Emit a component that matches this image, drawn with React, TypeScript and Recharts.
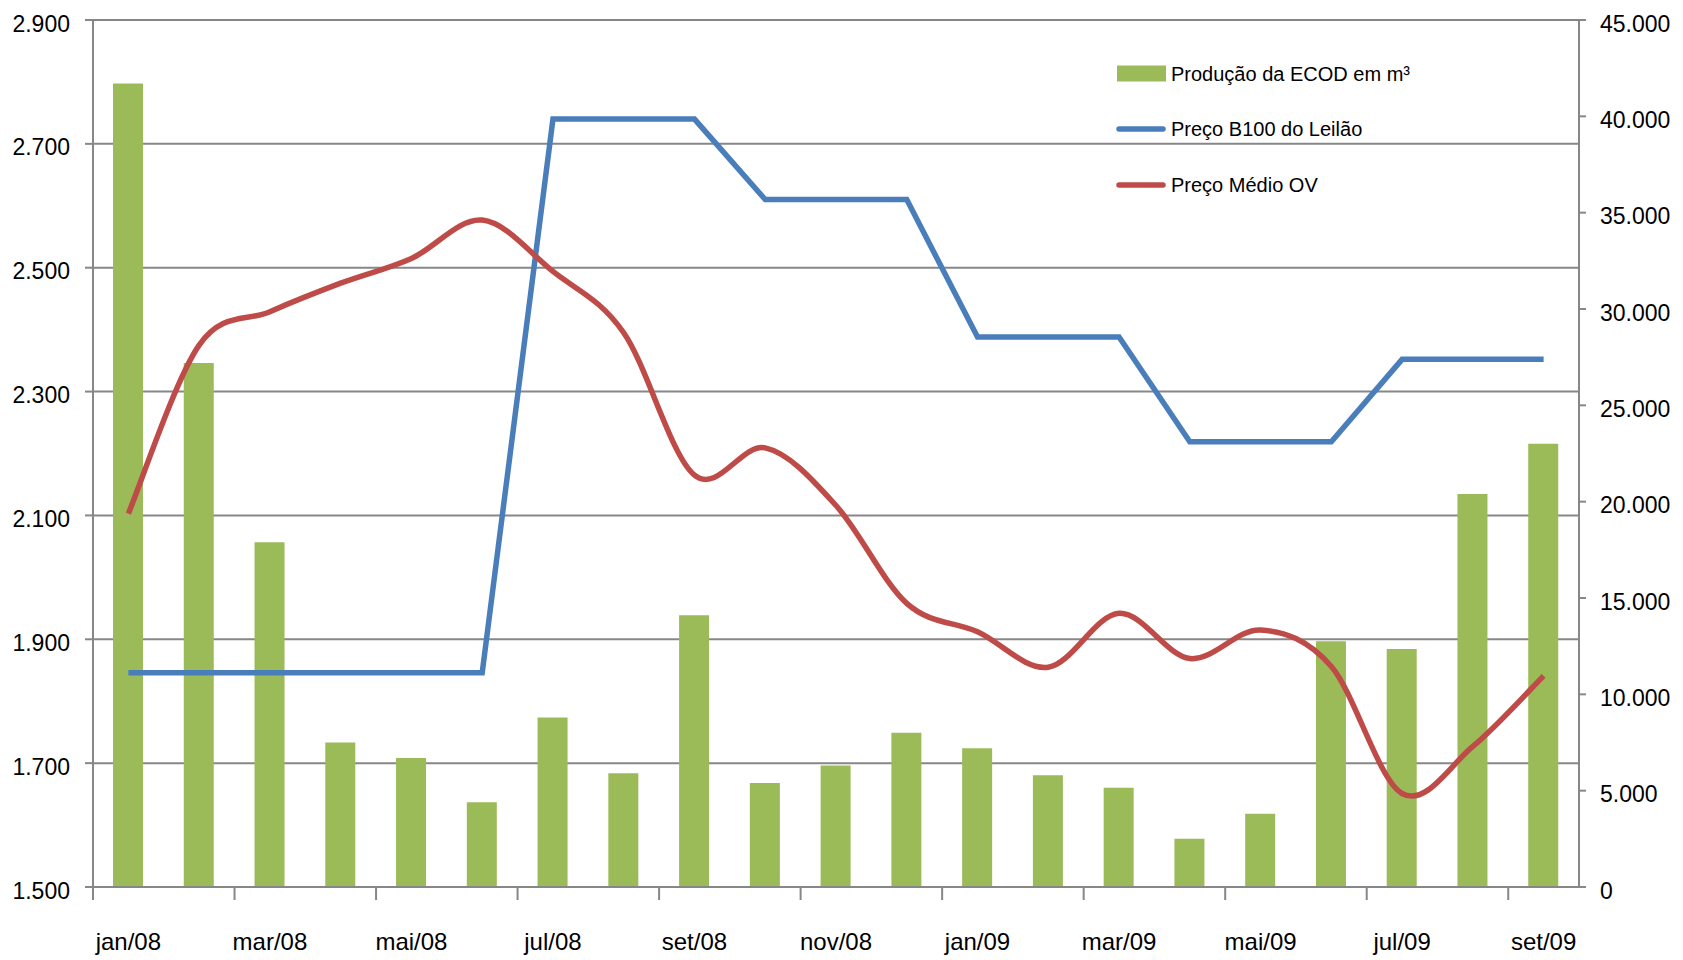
import React from 'react';
import { ComposedChart, Bar, Line, XAxis, YAxis, CartesianGrid, Legend } from 'recharts';

const months = ['jan/08', 'fev/08', 'mar/08', 'abr/08', 'mai/08', 'jun/08', 'jul/08', 'ago/08', 'set/08', 'out/08', 'nov/08', 'dez/08', 'jan/09', 'fev/09', 'mar/09', 'abr/09', 'mai/09', 'jun/09', 'jul/09', 'ago/09', 'set/09'];
const producao = [41700, 27200, 17900, 7500, 6700, 4400, 8800, 5900, 14100, 5400, 6300, 8000, 7200, 5800, 5150, 2500, 3800, 12750, 12350, 20400, 23000];
const precoB100 = [1846, 1846, 1846, 1846, 1846, 1846, 2740, 2740, 2740, 2610, 2610, 2610, 2388, 2388, 2388, 2219, 2219, 2219, 2352, 2352, 2352];
const precoOV = [2103, 2375, 2429, 2475, 2515, 2577, 2494, 2395, 2165, 2209, 2116, 1958, 1912, 1855, 1942, 1869, 1915, 1856, 1651, 1727, 1841];
const leftTicks = [1500, 1700, 1900, 2100, 2300, 2500, 2700, 2900];
const rightTicks = [0, 5000, 10000, 15000, 20000, 25000, 30000, 35000, 40000, 45000];

const seriesNames = {
  producao: 'Produção da ECOD em m³',
  b100: 'Preço B100 do Leilão',
  ov: 'Preço Médio OV',
};

const data = months.map((m, i) => ({ month: m, producao: producao[i], b100: precoB100[i], ov: precoOV[i] }));

const W = 1683;
const H = 960;
const LEFT_W = 93;
const RIGHT_W = 104;
const TOP = 20;
const X_H = 73;
const PLOT_W = W - LEFT_W - RIGHT_W;
const BAND = PLOT_W / months.length;

const FONT = "'Liberation Sans', Arial, sans-serif";
const GRID = '#878787';
const GREEN = '#9BBB59';
const BLUE = '#4A7EBB';
const RED = '#BE4B48';

const fmt = (v: number) => String(v).replace(/\B(?=(\d{3})+(?!\d))/g, '.');

// Excel-like smoothed line (Catmull-Rom / 1/6 control points)
const excelSmooth = (context: any) => {
  let pts: number[][] = [];
  return {
    areaStart() {},
    areaEnd() {},
    lineStart() {
      pts = [];
    },
    lineEnd() {
      const n = pts.length;
      if (!n) return;
      context.moveTo(pts[0][0], pts[0][1]);
      for (let i = 0; i < n - 1; i++) {
        const p0 = pts[i - 1] || pts[i];
        const p1 = pts[i];
        const p2 = pts[i + 1];
        const p3 = pts[i + 2] || pts[i + 1];
        context.bezierCurveTo(
          p1[0] + (p2[0] - p0[0]) / 6,
          p1[1] + (p2[1] - p0[1]) / 6,
          p2[0] - (p3[0] - p1[0]) / 6,
          p2[1] - (p3[1] - p1[1]) / 6,
          p2[0],
          p2[1]
        );
      }
    },
    point(x: number, y: number) {
      pts.push([+x, +y]);
    },
  };
};

const LeftTick = (props: any) => {
  const { x, y, payload } = props;
  return (
    <text x={x} y={y} dy={11.5} textAnchor="end" fontSize={23} fontFamily={FONT} fill="#000">
      {fmt(payload.value)}
    </text>
  );
};

const RightTick = (props: any) => {
  const { x, y, payload } = props;
  return (
    <text x={x} y={y} dy={11.5} textAnchor="start" fontSize={23} fontFamily={FONT} fill="#000">
      {fmt(payload.value)}
    </text>
  );
};

const XTick = (props: any) => {
  const { x, y, payload } = props;
  const bx = x - BAND / 2;
  return (
    <g>
      <line x1={bx} x2={bx} y1={y} y2={y + 13} stroke={GRID} strokeWidth={2} />
      <text x={x} y={y + 63} textAnchor="middle" fontSize={24} fontFamily={FONT} fill="#000">
        {payload.value}
      </text>
    </g>
  );
};

const LegendBox = () => {
  const row: React.CSSProperties = { display: 'flex', alignItems: 'center', height: 55.5 };
  const label: React.CSSProperties = { marginLeft: 5, lineHeight: 1, whiteSpace: 'nowrap' };
  return (
    <div style={{ fontFamily: FONT, fontSize: 20, color: '#000' }}>
      <div style={row}>
        <svg width={50} height={17}>
          <rect x={1} y={0.5} width={49} height={16} fill={GREEN} />
        </svg>
        <span style={label}>{seriesNames.producao}</span>
      </div>
      <div style={row}>
        <svg width={50} height={8}>
          <line x1={3} x2={47} y1={4} y2={4} stroke={BLUE} strokeWidth={5.5} strokeLinecap="round" />
        </svg>
        <span style={label}>{seriesNames.b100}</span>
      </div>
      <div style={row}>
        <svg width={50} height={8}>
          <line x1={3} x2={47} y1={4} y2={4} stroke={RED} strokeWidth={5.5} strokeLinecap="round" />
        </svg>
        <span style={label}>{seriesNames.ov}</span>
      </div>
    </div>
  );
};

export default function App() {
  return (
    <div style={{ position: 'absolute', left: 0, top: 0, width: W, height: H, background: '#fff' }}>
      <ComposedChart width={W} height={H} data={data} margin={{ top: TOP, right: 0, bottom: 0, left: 0 }}>
        <CartesianGrid yAxisId="left" vertical={false} stroke={GRID} strokeWidth={2} />
        <XAxis
          dataKey="month"
          interval={1}
          height={X_H}
          tickSize={0}
          tickMargin={0}
          tickLine={false}
          axisLine={{ stroke: GRID, strokeWidth: 2 }}
          tick={<XTick />}
        />
        <YAxis
          yAxisId="left"
          width={LEFT_W}
          domain={[1500, 2900]}
          ticks={leftTicks}
          interval={0}
          tickSize={8}
          tickMargin={15}
          axisLine={{ stroke: GRID, strokeWidth: 2 }}
          tickLine={{ stroke: GRID, strokeWidth: 2 }}
          tick={<LeftTick />}
        />
        <YAxis
          yAxisId="right"
          orientation="right"
          width={RIGHT_W}
          domain={[0, 45000]}
          ticks={rightTicks}
          interval={0}
          tickSize={7}
          tickMargin={14}
          axisLine={{ stroke: GRID, strokeWidth: 2 }}
          tickLine={{ stroke: GRID, strokeWidth: 2 }}
          tick={<RightTick />}
        />
        <Legend
          layout="vertical"
          align="center"
          verticalAlign="middle"
          content={() => <LegendBox />}
          wrapperStyle={{ position: 'absolute', left: 1116, top: 46, width: 330, height: 170 }}
        />
        <Bar yAxisId="right" dataKey="producao" name={seriesNames.producao} fill={GREEN} barSize={30} isAnimationActive={false} />
        <Line yAxisId="left" type="linear" dataKey="b100" name={seriesNames.b100} stroke={BLUE} strokeWidth={5.5} dot={false} activeDot={false} isAnimationActive={false} />
        <Line yAxisId="left" type={excelSmooth as any} dataKey="ov" name={seriesNames.ov} stroke={RED} strokeWidth={5.5} dot={false} activeDot={false} isAnimationActive={false} />
      </ComposedChart>
    </div>
  );
}
